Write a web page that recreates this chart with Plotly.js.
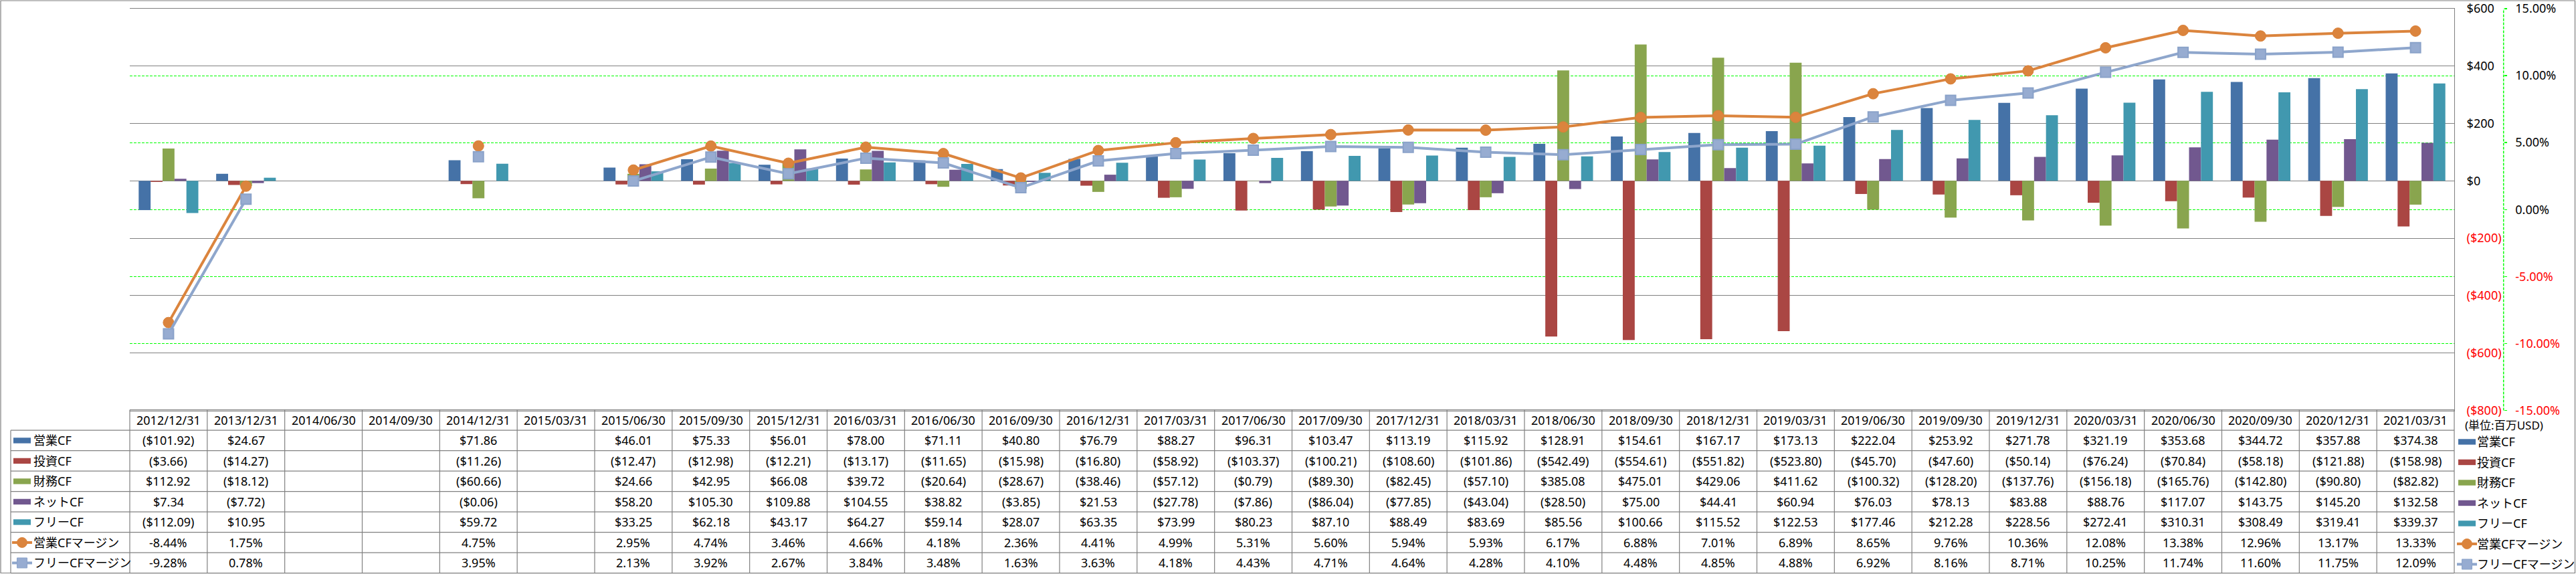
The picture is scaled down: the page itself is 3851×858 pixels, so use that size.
<!DOCTYPE html>
<html>
<head>
<meta charset="utf-8">
<script src="https://cdn.plot.ly/plotly-3.0.1.min.js"></script>
<style>
  html, body { margin: 0; padding: 0; background: #fff; }
  #chart { width: 3851px; height: 858px; }
</style>
</head>
<body>
<div id="chart"></div>
<script>
// quarter ends
var cats = ['2012/12/31','2013/12/31','2014/06/30','2014/09/30','2014/12/31','2015/03/31','2015/06/30','2015/09/30',
  '2015/12/31','2016/03/31','2016/06/30','2016/09/30','2016/12/31','2017/03/31','2017/06/30','2017/09/30',
  '2017/12/31','2018/03/31','2018/06/30','2018/09/30','2018/12/31','2019/03/31','2019/06/30','2019/09/30',
  '2019/12/31','2020/03/31','2020/06/30','2020/09/30','2020/12/31','2021/03/31'];

// cash flows, million USD
var opCF = [-101.92, 24.67, null, null, 71.86, null, 46.01, 75.33, 56.01, 78.00, 71.11, 40.80, 76.79, 88.27, 96.31,
  103.47, 113.19, 115.92, 128.91, 154.61, 167.17, 173.13, 222.04, 253.92, 271.78, 321.19, 353.68, 344.72, 357.88, 374.38];
var invCF = [-3.66, -14.27, null, null, -11.26, null, -12.47, -12.98, -12.21, -13.17, -11.65, -15.98, -16.80, -58.92, -103.37,
  -100.21, -108.60, -101.86, -542.49, -554.61, -551.82, -523.80, -45.70, -47.60, -50.14, -76.24, -70.84, -58.18, -121.88, -158.98];
var finCF = [112.92, -18.12, null, null, -60.66, null, 24.66, 42.95, 66.08, 39.72, -20.64, -28.67, -38.46, -57.12, -0.79,
  -89.30, -82.45, -57.10, 385.08, 475.01, 429.06, 411.62, -100.32, -128.20, -137.76, -156.18, -165.76, -142.80, -90.80, -82.82];
var netCF = [7.34, -7.72, null, null, -0.06, null, 58.20, 105.30, 109.88, 104.55, 38.82, -3.85, 21.53, -27.78, -7.86,
  -86.04, -77.85, -43.04, -28.50, 75.00, 44.41, 60.94, 76.03, 78.13, 83.88, 88.76, 117.07, 143.75, 145.20, 132.58];
var freeCF = [-112.09, 10.95, null, null, 59.72, null, 33.25, 62.18, 43.17, 64.27, 59.14, 28.07, 63.35, 73.99, 80.23,
  87.10, 88.49, 83.69, 85.56, 100.66, 115.52, 122.53, 177.46, 212.28, 228.56, 272.41, 310.31, 308.49, 319.41, 339.37];

// margins, %
var opMargin = [-8.44, 1.75, null, null, 4.75, null, 2.95, 4.74, 3.46, 4.66, 4.18, 2.36, 4.41, 4.99, 5.31,
  5.60, 5.94, 5.93, 6.17, 6.88, 7.01, 6.89, 8.65, 9.76, 10.36, 12.08, 13.38, 12.96, 13.17, 13.33];
var freeMargin = [-9.28, 0.78, null, null, 3.95, null, 2.13, 3.92, 2.67, 3.84, 3.48, 1.63, 3.63, 4.18, 4.43,
  4.71, 4.64, 4.28, 4.10, 4.48, 4.85, 4.88, 6.92, 8.16, 8.71, 10.25, 11.74, 11.60, 11.75, 12.09];

var names = ['営業CF', '投資CF', '財務CF', 'ネットCF', 'フリーCF', '営業CFマージン', 'フリーCFマージン'];
var colors = ['#4572A7', '#AA4643', '#89A54E', '#71588F', '#4198AF', '#DB843D', '#93A9CF'];

var moneyTicks = [-800, -600, -400, -200, 0, 200, 400, 600];
var pctTicks = [-15, -10, -5, 0, 5, 10, 15];

var W = 3851, H = 858;
var FONT = 'Noto Sans, Noto Sans CJK JP, sans-serif';
var GRAY = '#808080';
var GREEN = '#00FF00';
var RED = '#FF0000';

function px(v) { return v / W; }
function py(v) { return 1 - v / H; }

function fmtMoney(v) {
  if (v === null) return '';
  if (v < 0) return '($' + Math.abs(v).toFixed(2) + ')';
  return '$' + v.toFixed(2);
}
function fmtPct(v) {
  if (v === null) return '';
  return v.toFixed(2) + '%';
}

var bars = [opCF, invCF, finCF, netCF, freeCF];
var margins = [opMargin, freeMargin];

var traces = [];
for (var k = 0; k < bars.length; k++) {
  traces.push({
    type: 'bar', x: cats, y: bars[k], name: names[k], yaxis: 'y',
    marker: {color: colors[k]}, hoverinfo: 'x+y'
  });
}
traces.push({
  type: 'scatter', mode: 'lines+markers', x: cats, y: opMargin, name: names[5], yaxis: 'y2',
  connectgaps: false,
  line: {color: colors[5], width: 4},
  marker: {symbol: 'circle', size: 16, color: colors[5], line: {color: '#D98038', width: 1}}
});
traces.push({
  type: 'scatter', mode: 'lines+markers', x: cats, y: freeMargin, name: names[6], yaxis: 'y2',
  connectgaps: false,
  line: {color: '#8EA6CC', width: 4},
  marker: {symbol: 'square', size: 15, color: '#97ACD1', line: {color: '#8AA2C9', width: 2}}
});

// table geometry
var tLeft = 16, tCol0 = 194, tRight = 3669;
var colW = (tRight - tCol0) / cats.length;
var rowTop = 612.7, rowH = 30.5;
function rowMid(r) { return rowTop + rowH * (r + 0.5); }

var shapes = [];
var annotations = [];

// outer frame
shapes.push({type: 'rect', xref: 'paper', yref: 'paper', x0: px(1), x1: px(3849.5), y0: py(856.5), y1: py(1),
  line: {color: GRAY, width: 1.2}});

// secondary axis line (dashed)
shapes.push({type: 'line', xref: 'paper', yref: 'paper', x0: px(3742.7), x1: px(3742.7), y0: py(613.5), y1: py(13),
  line: {color: GREEN, width: 1.5, dash: '4px,2px'}});

// table lines
var tl = {color: GRAY, width: 1.2};
shapes.push({type: 'line', xref: 'paper', yref: 'paper', x0: px(tCol0), x1: px(tRight), y0: py(rowTop), y1: py(rowTop), line: tl});
for (var r = 1; r <= 8; r++) {
  var yy = py(rowTop + r * rowH);
  shapes.push({type: 'line', xref: 'paper', yref: 'paper', x0: px(tLeft), x1: px(tRight), y0: yy, y1: yy, line: tl});
}
shapes.push({type: 'line', xref: 'paper', yref: 'paper', x0: px(tLeft), x1: px(tLeft), y0: py(rowTop + rowH), y1: py(rowTop + 8 * rowH), line: tl});
for (var c = 0; c <= cats.length; c++) {
  var xx = px(tCol0 + c * colW);
  shapes.push({type: 'line', xref: 'paper', yref: 'paper', x0: xx, x1: xx, y0: py(rowTop), y1: py(rowTop + 8 * rowH), line: tl});
}

// header row: dates
for (var i = 0; i < cats.length; i++) {
  annotations.push({xref: 'x', yref: 'paper', x: cats[i], y: py(rowMid(0)), text: cats[i],
    showarrow: false, xanchor: 'center', yanchor: 'middle', font: {family: FONT, size: 18, color: '#000'}});
}

// legend key drawn at given pixel spot
function legendKey(k, x0, cy) {
  if (k < 5) {
    shapes.push({type: 'rect', xref: 'paper', yref: 'paper', x0: px(x0), x1: px(x0 + 26), y0: py(cy + 4.2), y1: py(cy - 4.2),
      fillcolor: colors[k], line: {width: 0}});
  } else {
    var col = k === 5 ? colors[5] : '#8EA6CC';
    shapes.push({type: 'line', xref: 'paper', yref: 'paper', x0: px(x0 - 2), x1: px(x0 + 28), y0: py(cy), y1: py(cy),
      line: {color: col, width: 4}});
    var cx = x0 + 13;
    shapes.push({type: k === 5 ? 'circle' : 'rect', xref: 'paper', yref: 'paper',
      x0: px(cx - 7.5), x1: px(cx + 7.5), y0: py(cy + 7.5), y1: py(cy - 7.5),
      fillcolor: k === 5 ? colors[5] : '#97ACD1', line: {color: k === 5 ? colors[5] : '#8AA2C9', width: 1}});
  }
}

var series = bars.concat(margins);
for (var k2 = 0; k2 < series.length; k2++) {
  var cy = rowMid(k2 + 1);
  // left label column
  legendKey(k2, 20, cy);
  annotations.push({xref: 'paper', yref: 'paper', x: px(48), y: py(cy), text: names[k2],
    showarrow: false, xanchor: 'left', yanchor: 'middle', font: {family: FONT, size: 18, color: '#000'}});
  // right side legend
  legendKey(k2, 3675, cy + 2);
  annotations.push({xref: 'paper', yref: 'paper', x: px(3701), y: py(cy + 2), text: names[k2],
    showarrow: false, xanchor: 'left', yanchor: 'middle', font: {family: FONT, size: 18, color: '#000'}});
  // values
  for (var j = 0; j < cats.length; j++) {
    var v = series[k2][j];
    if (v === null) continue;
    annotations.push({xref: 'x', yref: 'paper', x: cats[j], y: py(cy),
      text: k2 < 5 ? fmtMoney(v) : fmtPct(v),
      showarrow: false, xanchor: 'center', yanchor: 'middle', font: {family: FONT, size: 18, color: '#000'}});
  }
}

annotations.push({xref: 'paper', yref: 'paper', x: px(3683), y: py(635), text: '(単位:百万USD)',
  showarrow: false, xanchor: 'left', yanchor: 'middle', font: {family: FONT, size: 17, color: '#000'}});

var layout = {
  width: W, height: H,
  margin: {l: 0, r: 0, t: 0, b: 0, pad: 0},
  paper_bgcolor: '#fff', plot_bgcolor: '#fff',
  showlegend: false,
  barmode: 'group', bargap: 0.23, bargroupgap: 0,
  font: {family: FONT, size: 18, color: '#000'},
  xaxis: {
    type: 'category', domain: [px(194), px(3669)], range: [-0.5, cats.length - 0.5],
    showticklabels: false, ticks: '', showgrid: false, zeroline: false,
    showline: true, mirror: true, linecolor: GRAY, linewidth: 1, fixedrange: true
  },
  yaxis: {
    domain: [py(613.5), py(13)], range: [-800, 600], side: 'right',
    tickvals: moneyTicks,
    ticktext: moneyTicks.map(function (t) {
      return t < 0 ? '<span style="color:red">($' + Math.abs(t) + ')</span>' : '$' + t;
    }),
    ticks: '', ticklabelstandoff: 14,
    showline: true, linecolor: GRAY, linewidth: 1,
    showgrid: true, gridcolor: GRAY, gridwidth: 1,
    zeroline: true, zerolinecolor: GRAY, zerolinewidth: 1,
    tickfont: {family: FONT, size: 18, color: '#000'}, fixedrange: true
  },
  yaxis2: {
    overlaying: 'y', side: 'right', anchor: 'free', position: px(3742.7),
    range: [-15, 15],
    tickvals: pctTicks,
    ticktext: pctTicks.map(function (t) {
      var s = t.toFixed(2) + '%';
      return t < 0 ? '<span style="color:red">' + s + '</span>' : s;
    }),
    ticks: 'outside', ticklen: 4, tickwidth: 1.5, tickcolor: GREEN, ticklabelstandoff: 9,
    showline: false, zeroline: false,
    showgrid: true, gridcolor: GREEN, gridwidth: 1, griddash: '4px,2px',
    tickfont: {family: FONT, size: 18, color: '#000'}, fixedrange: true
  },
  shapes: shapes,
  annotations: annotations
};

Plotly.newPlot('chart', traces, layout, {displayModeBar: false, staticPlot: true});
</script>
</body>
</html>
